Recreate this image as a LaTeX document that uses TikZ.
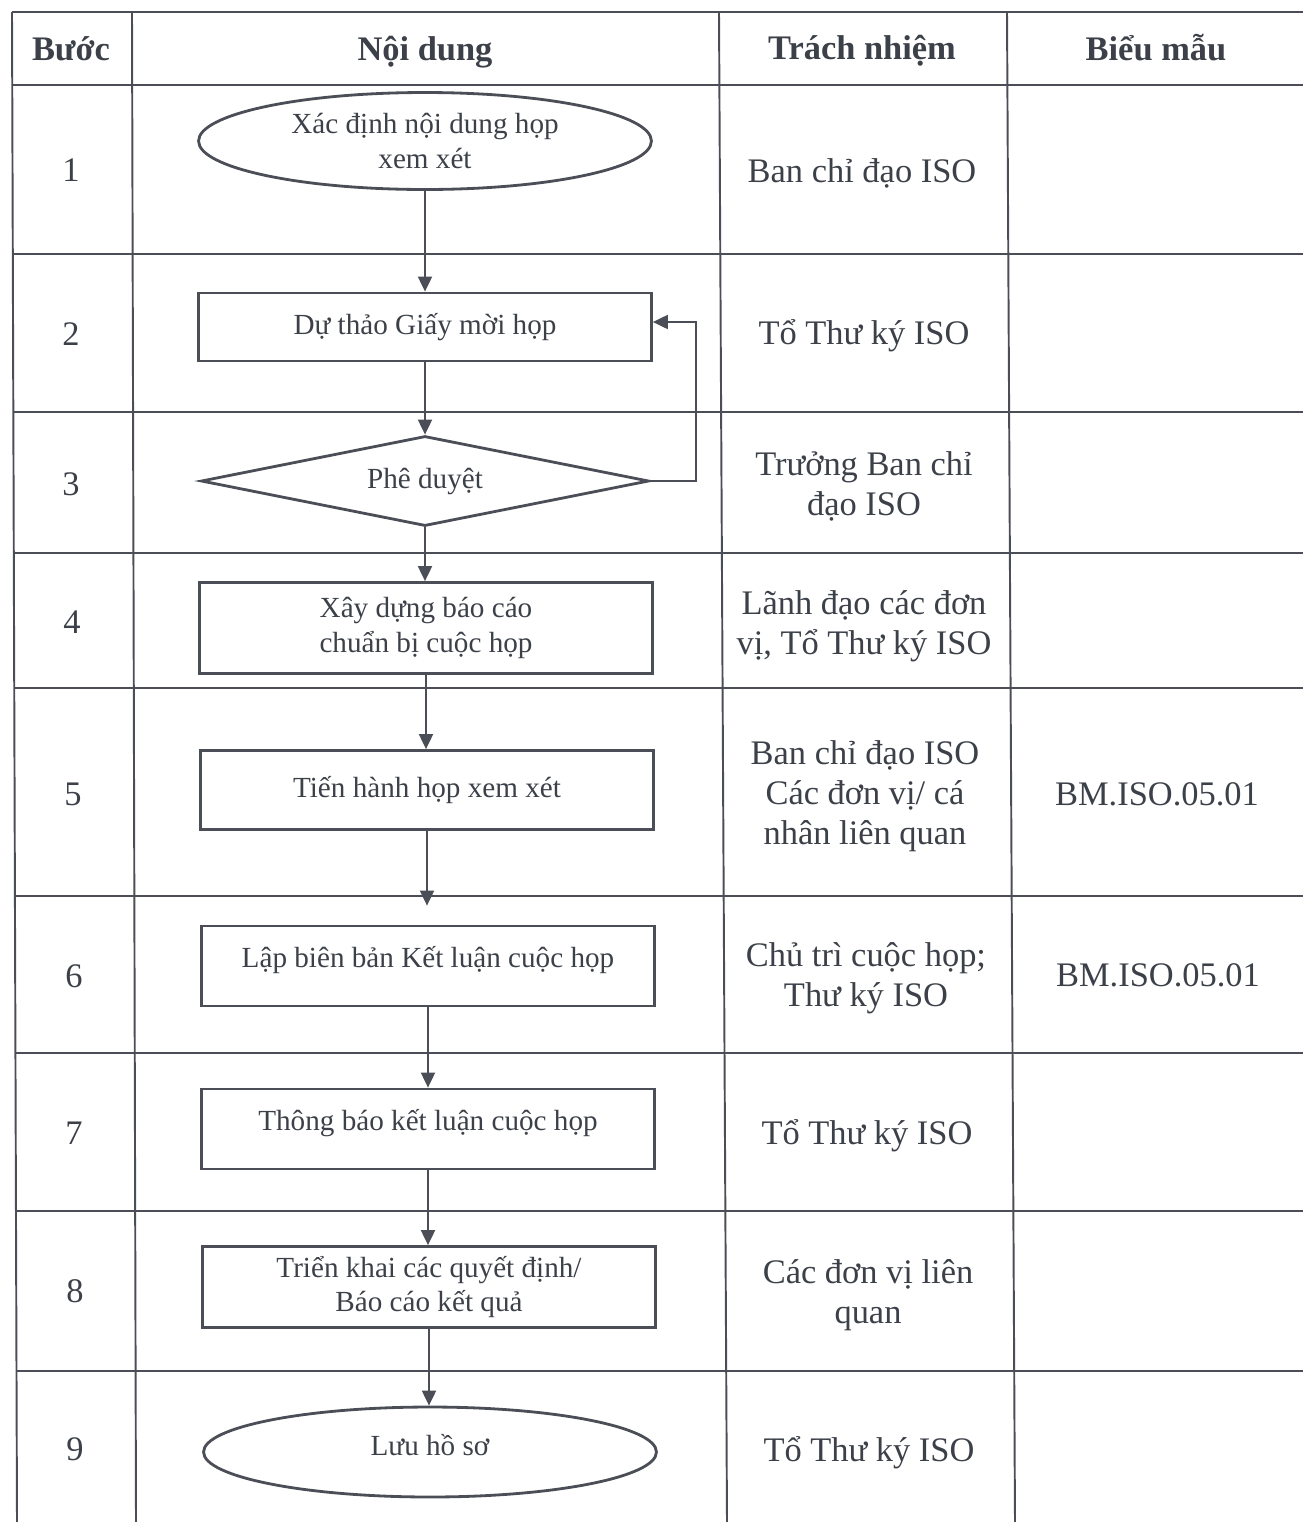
\documentclass[tikz,border=0pt]{standalone}
\usepackage{fontspec}
\setmainfont{Liberation Serif}
\usetikzlibrary{arrows.meta,shapes.geometric}

\definecolor{ink}{HTML}{4B4E56}
\definecolor{txt}{HTML}{3C4048}

\newcommand{\lift}[2]{\raisebox{#1}[\height][\depth]{#2}}

\tikzset{
  tabline/.style={draw=ink, line width=1.1pt},
  cell/.style={text=txt, align=center, inner sep=0pt, font=\fontsize{19.6}{22.8}\selectfont},
  headcell/.style={cell, font=\fontsize{19.6}{22.8}\selectfont\bfseries},
  flow/.style={draw=ink, line width=1.6pt, text=txt, align=center, inner sep=0pt, font=\fontsize{16.6}{19.8}\selectfont},
  stepbox/.style={flow, rectangle, minimum width=9.06cm, minimum height=#1},
  oval/.style={flow, ellipse, minimum width=9.06cm, minimum height=#1},
  ask/.style={flow, diamond, aspect=5, minimum width=8.96cm, minimum height=1.8cm},
  go/.style={draw=ink, line width=1.1pt, -{Triangle[width=0.28cm,length=0.3cm]}}
}

\begin{document}
\begin{tikzpicture}[x=0.02cm, y=-0.02cm]
\useasboundingbox (0,0) rectangle (1303,1522);

% table rules
\foreach \y in {12,85,254,412,553,688,896,1053,1211,1371}
{
\draw[tabline] ({12+5*(\y-12)/1510},\y) -- (1303,\y);
}
\foreach \a/\b in {12/17,132/136,719/727,1007/1015}
{
\draw[tabline] (\a,12) -- (\b,1522);
}

% header
\node[headcell] (hstep) at (71,49) {Bước};
\node[headcell] (hcontent) at (425,52) {Nội dung};
\node[headcell] (hresp) at (862,51) {Trách nhiệm};
\node[headcell] (hform) at (1156,48) {Biểu mẫu};

% step numbers
\foreach \i/\x/\y in {1/71/170,2/71/334,3/71/484,4/72/622,5/73/794,6/74/976,7/74/1133,8/75/1291,9/75/1449}
{
\node[cell] (n\i) at (\x,\y) {\i};
}

% who does it
\node[cell] (r1) at (862,173) {Ban chỉ đạo ISO};
\node[cell] (r2) at (864,336) {Tổ Thư ký ISO};
\node[cell] (r3) at (864,486) {Trưởng Ban chỉ\\đạo ISO};
\node[cell] (r4) at (864,626) {Lãnh đạo các đơn\\vị, Tổ Thư ký ISO};
\node[cell] (r5) at (865,796) {Ban chỉ đạo ISO\\Các đơn vị/ cá\\nhân liên quan};
\node[cell] (r6) at (866,978) {Chủ trì cuộc họp;\\Thư ký ISO};
\node[cell] (r7) at (867,1136) {Tổ Thư ký ISO};
\node[cell] (r8) at (868,1295) {Các đơn vị liên\\quan};
\node[cell] (r9) at (869,1453) {Tổ Thư ký ISO};

% forms
\node[cell] (f5) at (1157,794) {BM.ISO.05.01};
\node[cell] (f6) at (1158,975) {BM.ISO.05.01};

% flow
\node[oval=1.94cm] (s1) at (425,141) {Xác định nội dung họp\\xem xét};
\node[stepbox=1.36cm] (s2) at (425,327) {Dự thảo Giấy mời họp};
\node[ask] (s3) at (425,481) {Phê duyệt};
\node[stepbox=1.82cm] (s4) at (426,628) {Xây dựng báo cáo\\chuẩn bị cuộc họp};
\node[stepbox=1.58cm] (s5) at (427,790) {Tiến hành họp xem xét};
\node[stepbox=1.6cm] (s6) at (428,966) {\lift{0.12cm}{Lập biên bản Kết luận cuộc họp}};
\node[stepbox=1.6cm] (s7) at (428,1129) {\lift{0.12cm}{Thông báo kết luận cuộc họp}};
\node[stepbox=1.62cm] (s8) at (429,1287) {Triển khai các quyết định/\\Báo cáo kết quả};
\node[oval=1.8cm] (s9) at (430,1452) {\lift{0.14cm}{Lưu hồ sơ}};

\draw[go] (s1) -- (s1 |- s2.north);
\draw[go] (s2) -- (s2 |- s3.north);
\draw[go] (s3) -- (s3 |- s4.north);
\draw[go] (s4) -- (s4 |- s5.north);
\draw[go, shorten >=0.38cm] (s5) -- (s5 |- s6.north);
\draw[go] (s6) -- (s6 |- s7.north);
\draw[go] (s7) -- (s7 |- s8.north);
\draw[go] (s8) -- (s8 |- s9.north);
\draw[go] (s3.east) -- ++(46,0) |- ([yshift=0.1cm]s2.east);
\end{tikzpicture}
\end{document}
